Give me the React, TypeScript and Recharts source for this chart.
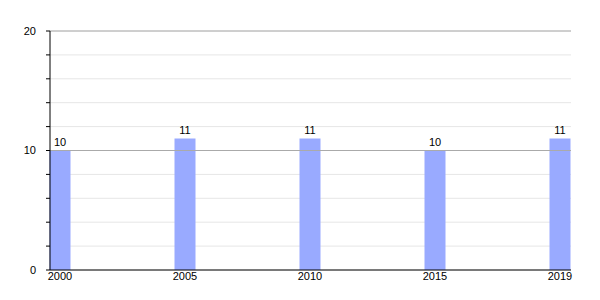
import { BarChart, Bar, XAxis, YAxis, CartesianGrid, ReferenceLine, LabelList } from 'recharts';

const years = ['2000', '2005', '2010', '2015', '2019'];
const counts = [10, 11, 11, 10, 11];
const yTicks = [0, 2, 4, 6, 8, 10, 12, 14, 16, 18, 20];
const yLabels = [0, 10, 20];

const data = years.map((year, i) => ({ year, value: counts[i] }));

const font = { fontFamily: '"Liberation Sans", Arial, sans-serif', fontSize: 11, fill: '#000' };

export default function App() {
  return (
    <div style={{ position: 'absolute', left: 0, top: 0, width: 600, height: 300, background: '#fff' }}>
      <BarChart width={600} height={300} data={data} margin={{ top: 31, right: 29, left: 0, bottom: 10 }}>
        <CartesianGrid vertical={false} stroke="#e6e6e6" strokeDasharray="" />
        <ReferenceLine y={10} stroke="#aaaaaa" />
        <ReferenceLine y={20} stroke="#aaaaaa" />
        <XAxis
          dataKey="year"
          scale="point"
          padding={{ left: 10, right: 11 }}
          tickLine={false}
          axisLine={{ stroke: '#000' }}
          tick={font}
          tickSize={0}
          tickMargin={2}
          height={20}
        />
        <YAxis
          domain={[0, 20]}
          ticks={yTicks}
          interval={0}
          width={50}
          tickSize={4}
          tickLine={{ stroke: '#000' }}
          axisLine={{ stroke: '#000' }}
          tick={font}
          tickMargin={10}
          tickFormatter={(v: number) => (yLabels.includes(v) ? String(v) : '')}
        />
        <Bar dataKey="value" fill="#99aaff" barSize={21} isAnimationActive={false}>
          <LabelList dataKey="value" position="top" offset={5} style={font} />
        </Bar>
      </BarChart>
    </div>
  );
}
